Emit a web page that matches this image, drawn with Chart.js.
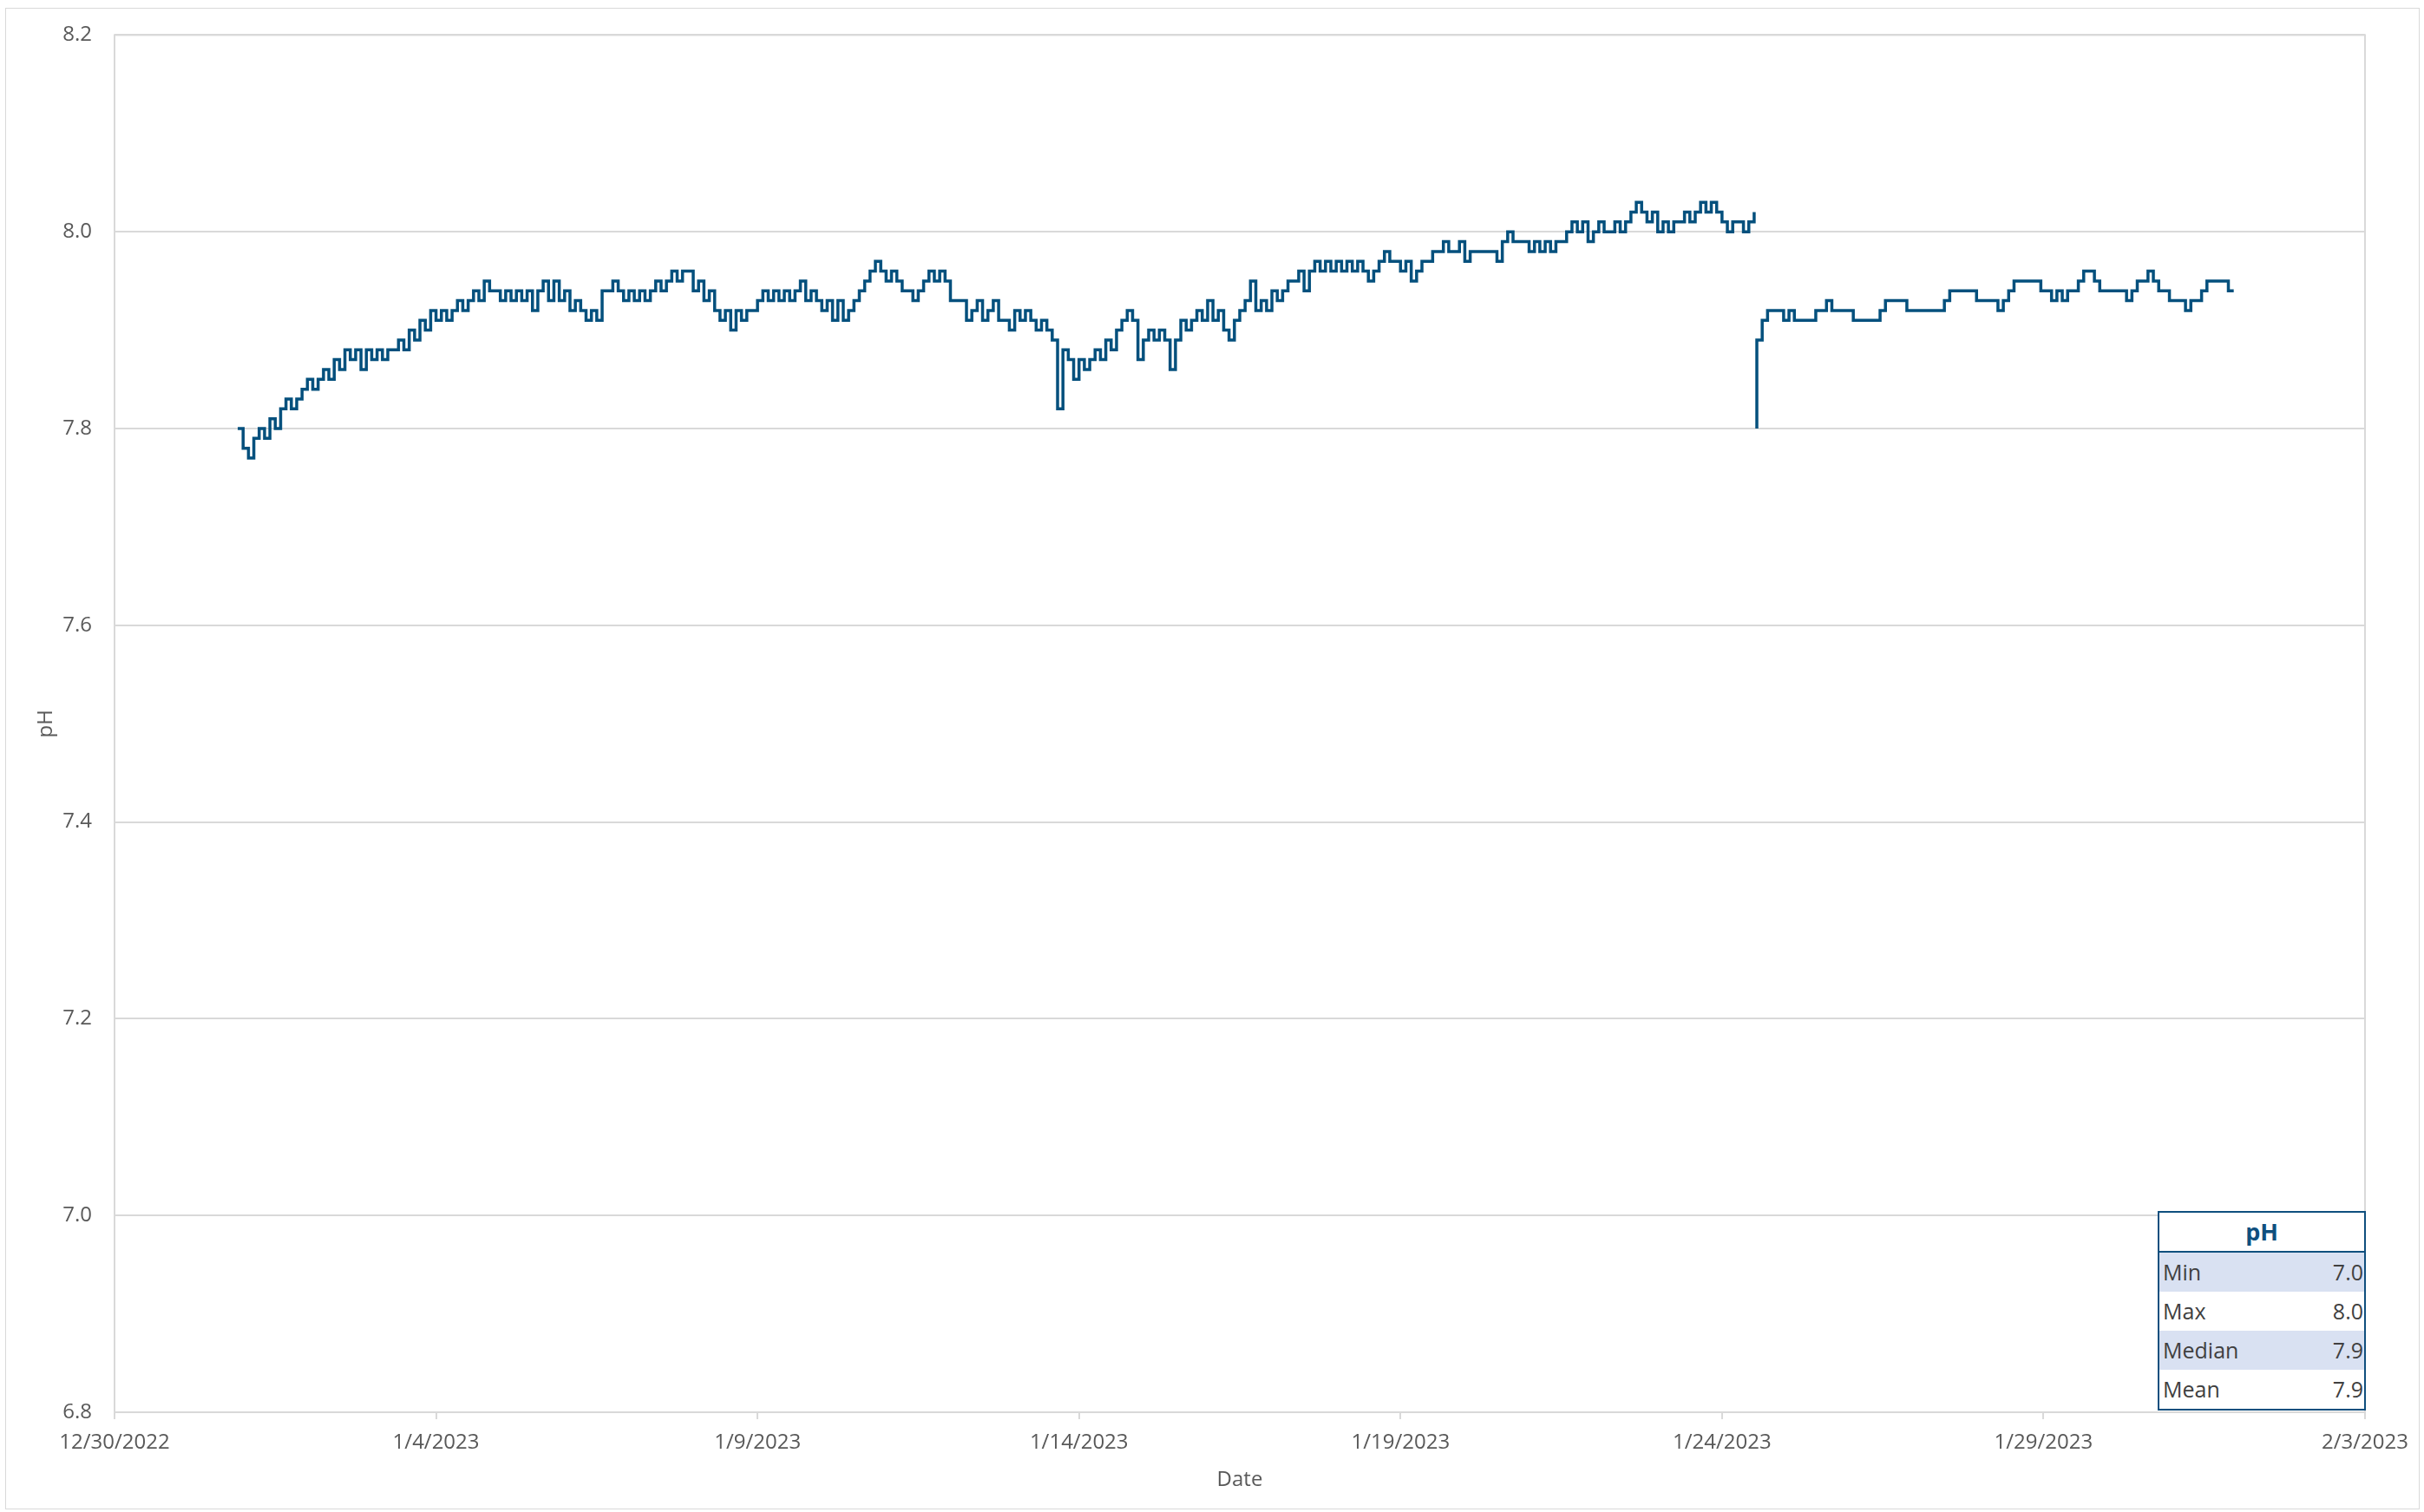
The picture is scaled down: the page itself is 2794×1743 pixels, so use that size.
<!DOCTYPE html>
<html>
<head>
<meta charset="utf-8">
<title>pH</title>
<script src="https://cdn.jsdelivr.net/npm/chart.js@4.4.0/dist/chart.umd.min.js"></script>
<style>
  html, body { margin: 0; padding: 0; background: #ffffff; }
  #wrap { position: relative; width: 2794px; height: 1743px; }
  #frame { position: absolute; left: 6px; top: 9px; width: 2781px; height: 1729px; border: 1px solid #d9d9d9; }
  #ph-chart { position: absolute; left: 0; top: 0; }
  #stats {
    position: absolute; left: 2487px; top: 1396px; width: 240px; height: 230px;
    box-sizing: border-box; border: 2px solid #0f4f7e; background: #ffffff;
    font-family: 'Open Sans', sans-serif; font-size: 25px; color: #404040;
  }
  #stats .head { height: 44px; line-height: 44px; border-bottom: 2px solid #0f4f7e; text-align: center;
    font-weight: bold; color: #0f4f7e; font-size: 27px; }
  #stats .row { height: 45px; line-height: 45px; display: flex; justify-content: space-between; padding: 0 1px 0 4px; }
  #stats .row.shade { background: #d9e1f2; }
</style>
</head>
<body>
<div id="wrap">
  <div id="frame"></div>
  <canvas id="ph-chart" width="2794" height="1743"></canvas>
  <div id="stats"><div class="head">pH</div></div>
</div>
<script>
// x tick labels, one every 5 days from 12/30/2022
const dateTicks = ['12/30/2022', '1/4/2023', '1/9/2023', '1/14/2023', '1/19/2023', '1/24/2023', '1/29/2023', '2/3/2023'];

// readings every 2 hours
const stepHours = 2;
const seg1Start = Date.UTC(2022, 11, 31, 22);
const seg1Values = [
  7.80, 7.78, 7.77, 7.79, 7.80, 7.79, 7.81, 7.80, 7.82, 7.83,
  7.82, 7.83, 7.84, 7.85, 7.84, 7.85, 7.86, 7.85, 7.87, 7.86,
  7.88, 7.87, 7.88, 7.86, 7.88, 7.87, 7.88, 7.87, 7.88, 7.88,
  7.89, 7.88, 7.90, 7.89, 7.91, 7.90, 7.92, 7.91, 7.92, 7.91,
  7.92, 7.93, 7.92, 7.93, 7.94, 7.93, 7.95, 7.94,
  7.94, 7.93, 7.94, 7.93, 7.94, 7.93, 7.94, 7.92, 7.94, 7.95,
  7.93, 7.95, 7.93, 7.94, 7.92, 7.93, 7.92, 7.91, 7.92, 7.91,
  7.94, 7.94, 7.95, 7.94, 7.93, 7.94, 7.93, 7.94, 7.93, 7.94,
  7.95, 7.94, 7.95, 7.96, 7.95, 7.96, 7.96, 7.94, 7.95, 7.93,
  7.94, 7.92, 7.91, 7.92, 7.90, 7.92, 7.91, 7.92,
  7.92, 7.93, 7.94, 7.93, 7.94, 7.93, 7.94, 7.93, 7.94, 7.95,
  7.93, 7.94, 7.93, 7.92, 7.93, 7.91, 7.93, 7.91, 7.92, 7.93,
  7.94, 7.95, 7.96, 7.97, 7.96, 7.95, 7.96, 7.95, 7.94, 7.94,
  7.93, 7.94, 7.95, 7.96, 7.95, 7.96, 7.95, 7.93, 7.93, 7.93,
  7.91, 7.92, 7.93, 7.91, 7.92, 7.93, 7.91,
  7.91, 7.90, 7.92, 7.91, 7.92, 7.91, 7.90, 7.91, 7.90, 7.89,
  7.82, 7.88, 7.87, 7.85, 7.87, 7.86, 7.87, 7.88, 7.87, 7.89,
  7.88, 7.90, 7.91, 7.92, 7.91, 7.87, 7.89, 7.90, 7.89, 7.90,
  7.89, 7.86, 7.89, 7.91, 7.90, 7.91, 7.92, 7.91, 7.93, 7.91,
  7.92, 7.90, 7.89, 7.91, 7.92, 7.93, 7.95, 7.92,
  7.93, 7.92, 7.94, 7.93, 7.94, 7.95, 7.95, 7.96, 7.94, 7.96,
  7.97, 7.96, 7.97, 7.96, 7.97, 7.96, 7.97, 7.96, 7.97, 7.96,
  7.95, 7.96, 7.97, 7.98, 7.97, 7.97, 7.96, 7.97, 7.95, 7.96,
  7.97, 7.97, 7.98, 7.98, 7.99, 7.98, 7.98, 7.99, 7.97, 7.98,
  7.98, 7.98, 7.98, 7.98, 7.97, 7.99, 8.00, 7.99,
  7.99, 7.99, 7.98, 7.99, 7.98, 7.99, 7.98, 7.99, 7.99, 8.00,
  8.01, 8.00, 8.01, 7.99, 8.00, 8.01, 8.00, 8.00, 8.01, 8.00,
  8.01, 8.02, 8.03, 8.02, 8.01, 8.02, 8.00, 8.01, 8.00, 8.01,
  8.01, 8.02, 8.01, 8.02, 8.03, 8.02, 8.03, 8.02, 8.01, 8.00,
  8.01, 8.01, 8.00, 8.01, 8.02
];

// probe restarted on 1/24
const seg2Start = Date.UTC(2023, 0, 24, 13);
const seg2Values = [
  7.80, 7.89, 7.91, 7.92, 7.92, 7.92, 7.91, 7.92, 7.91, 7.91,
  7.91, 7.91, 7.92, 7.92, 7.93, 7.92, 7.92, 7.92, 7.92, 7.91,
  7.91, 7.91, 7.91, 7.91, 7.92, 7.93, 7.93, 7.93, 7.93, 7.92,
  7.92, 7.92, 7.92, 7.92, 7.92, 7.92, 7.93, 7.94, 7.94, 7.94,
  7.94, 7.94, 7.93, 7.93, 7.93, 7.93, 7.92, 7.93, 7.94, 7.95,
  7.95, 7.95, 7.95, 7.95, 7.94, 7.94, 7.93, 7.94, 7.93, 7.94,
  7.94, 7.95, 7.96, 7.96, 7.95, 7.94, 7.94, 7.94, 7.94, 7.94,
  7.93, 7.94, 7.95, 7.95, 7.96, 7.95, 7.94, 7.94, 7.93, 7.93,
  7.93, 7.92, 7.93, 7.93, 7.94, 7.95, 7.95, 7.95, 7.95, 7.94
];

const statLabels = ['Min', 'Max', 'Median', 'Mean'];
const statValues = [7.0, 8.0, 7.9, 7.9];

const axisStart = Date.UTC(2022, 11, 30);
function toDays(ms) {
  return (ms - axisStart) / 864e5;
}

function toPoints(start, values) {
  return values.map(function (v, i) {
    return { x: toDays(start) + i * stepHours / 24, y: v };
  });
}

// stats box
var box = document.getElementById('stats');
statLabels.forEach(function (label, i) {
  var row = document.createElement('div');
  row.className = 'row' + (i % 2 === 0 ? ' shade' : '');
  var a = document.createElement('span');
  a.textContent = label;
  var b = document.createElement('span');
  b.textContent = statValues[i].toFixed(1);
  row.appendChild(a);
  row.appendChild(b);
  box.appendChild(row);
});

Chart.defaults.font.family = "'Open Sans', sans-serif";
Chart.defaults.font.size = 24;
Chart.defaults.color = '#595959';

const plotFrame = {
  id: 'plotFrame',
  beforeDatasetsDraw(chart) {
    const { ctx, chartArea } = chart;
    ctx.save();
    ctx.strokeStyle = '#d9d9d9';
    ctx.lineWidth = 2;
    ctx.strokeRect(chartArea.left, chartArea.top, chartArea.right - chartArea.left, chartArea.bottom - chartArea.top);
    ctx.restore();
  }
};

const lineColor = '#04507d';

const chart = new Chart(document.getElementById('ph-chart'), {
  type: 'line',
  data: {
    datasets: [{
      label: 'pH',
      data: toPoints(seg1Start, seg1Values),
      borderColor: lineColor,
      borderWidth: 3.5,
      pointRadius: 0,
      stepped: 'before',
      fill: false
    }, {
      label: 'pH',
      data: toPoints(seg2Start, seg2Values),
      borderColor: lineColor,
      borderWidth: 3.5,
      pointRadius: 0,
      stepped: 'after',
      fill: false
    }]
  },
  options: {
    responsive: false,
    animation: false,
    devicePixelRatio: 1,
    layout: { padding: { left: 0, top: 38, right: 68, bottom: 0 } },
    scales: {
      x: {
        type: 'linear',
        min: 0,
        max: 35,
        afterFit: function (scale) { scale.height = 115; },
        ticks: {
          stepSize: 5,
          maxRotation: 0,
          autoSkip: false,
          padding: 13,
          callback: function (value) { return dateTicks[Math.round(value / 5)]; }
        },
        grid: { drawOnChartArea: false, drawTicks: true, tickLength: 8, color: '#d9d9d9', lineWidth: 2 },
        border: { display: false },
        title: { display: true, text: 'Date', font: { size: 24 }, padding: { top: 0, bottom: 22 } }
      },
      y: {
        min: 6.8,
        max: 8.2,
        afterFit: function (scale) { scale.width = 132; },
        ticks: {
          stepSize: 0.2,
          padding: 26,
          callback: function (value) { return value.toFixed(1); }
        },
        grid: { drawTicks: false, color: '#d9d9d9', lineWidth: 2 },
        border: { display: false },
        title: { display: true, text: 'pH', font: { size: 24 }, padding: { top: 39, bottom: 0 } }
      }
    },
    plugins: {
      legend: { display: false },
      tooltip: { enabled: false }
    }
  },
  plugins: [plotFrame]
});
</script>
</body>
</html>
